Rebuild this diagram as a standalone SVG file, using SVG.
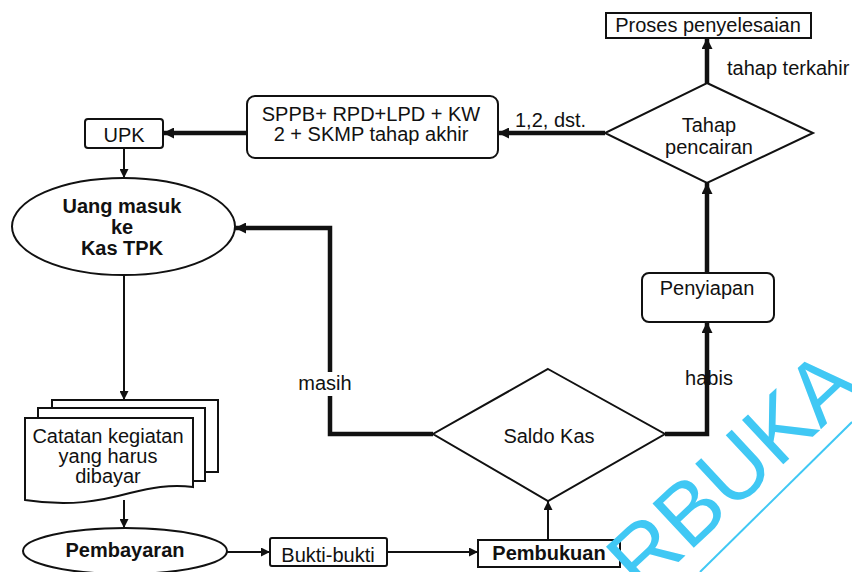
<svg xmlns="http://www.w3.org/2000/svg" width="852" height="572" viewBox="0 0 852 572">
<defs>
<style>
text{font-family:"Liberation Sans",Arial,sans-serif;font-size:20px;fill:#111;}
.c{text-anchor:middle;}
.b{font-weight:bold;}
.node{fill:#fff;stroke:#111;stroke-width:2;}
.thin{fill:none;stroke:#111;stroke-width:2;}
.thick{fill:none;stroke:#111;stroke-width:4.5;}
.wm{font-size:88px;fill:#40c8f4;}
</style>
<marker id="as" viewBox="0 0 10 10" refX="10" refY="5" markerWidth="10" markerHeight="9" orient="auto" markerUnits="userSpaceOnUse">
<path d="M0,0 L10,5 L0,10 z" fill="#111"/>
</marker>
<marker id="al" viewBox="0 0 10 10" refX="10" refY="5" markerWidth="12" markerHeight="11" orient="auto" markerUnits="userSpaceOnUse">
<path d="M0,0 L10,5 L0,10 z" fill="#111"/>
</marker>
</defs>
<rect width="852" height="572" fill="#fff"/>

<g id="connectors">
<path class="thick" d="M247,133 L163,133" marker-end="url(#al)"/>
<path class="thin" d="M124,148 L124,178" marker-end="url(#as)"/>
<path class="thin" d="M124,275 L124,400" marker-end="url(#as)"/>
<path class="thin" d="M124,500 L124,528" marker-end="url(#as)"/>
<path class="thin" d="M227,552 L270,552" marker-end="url(#as)"/>
<path class="thin" d="M387,552 L478,552" marker-end="url(#as)"/>
<path class="thin" d="M548,540 L548,501" marker-end="url(#as)"/>
<path class="thick" d="M433,434 L330,434 L330,228 L235,228" marker-end="url(#al)"/>
<rect x="298" y="372" width="56" height="24" fill="#fff"/>
<text x="325" y="390" class="c">masih</text>
<path class="thick" d="M665,434 L707,434 L707,322" marker-end="url(#al)"/>
<text x="709" y="385" class="c">habis</text>
<path class="thick" d="M707,273 L707,183" marker-end="url(#al)"/>
<path class="thick" d="M707,83 L707,38" marker-end="url(#al)"/>
<text x="727" y="75">tahap terkahir</text>
<path class="thick" d="M605,133 L498,133" marker-end="url(#al)"/>
<text x="515" y="127">1,2, dst.</text>
</g>

<g id="proses">
<rect class="node" x="606" y="13" width="205" height="25"/>
<text x="708" y="32" class="c">Proses penyelesaian</text>
</g>

<g id="tahap">
<path class="node" d="M707,83 L813,133 L707,183 L605,133 z" stroke-width="2.5"/>
<text x="709" y="132" class="c">Tahap</text>
<text x="709" y="154" class="c">pencairan</text>
</g>

<g id="sppb">
<rect class="node" x="247" y="96" width="251" height="62" rx="8"/>
<text x="371" y="121" class="c">SPPB+ RPD+LPD + KW</text>
<text x="371" y="141" class="c">2 + SKMP tahap akhir</text>
</g>

<g id="upk">
<rect class="node" x="85" y="119" width="78" height="29" rx="3"/>
<text x="124" y="142" class="c">UPK</text>
</g>

<g id="uang">
<ellipse class="node" cx="123.5" cy="226.5" rx="111.5" ry="48.5"/>
<text x="122" y="213" class="c b">Uang masuk</text>
<text x="122" y="234" class="c b">ke</text>
<text x="122" y="255" class="c b">Kas TPK</text>
</g>

<g id="penyiapan">
<rect class="node" x="642" y="273" width="132" height="49" rx="7"/>
<text x="707" y="295" class="c">Penyiapan</text>
</g>

<g id="saldo">
<path class="node" d="M548,369 L665,434 L548,501 L433,434 z" stroke-width="2.5"/>
<text x="549" y="443" class="c">Saldo Kas</text>
</g>

<g id="catatan">
<rect class="node" x="52" y="400" width="166" height="72"/>
<rect class="node" x="38" y="408" width="167" height="73"/>
<path class="node" d="M25,418 L193,418 L193,487 C170,484 150,488 130,493 C100,501 70,507 25,500 z" stroke-width="3"/>
<text x="108" y="443" class="c">Catatan kegiatan</text>
<text x="108" y="463" class="c">yang harus</text>
<text x="108" y="483" class="c">dibayar</text>
</g>

<g id="pembayaran">
<ellipse class="node" cx="125" cy="551" rx="102" ry="23"/>
<text x="125" y="557" class="c b">Pembayaran</text>
</g>

<g id="bukti">
<rect class="node" x="270" y="538" width="117" height="28" rx="2"/>
<text x="328" y="562" class="c">Bukti-bukti</text>
</g>

<g id="pembukuan">
<rect class="node" x="478" y="540" width="142" height="27"/>
<text x="549" y="560" class="c b">Pembukuan</text>
</g>

<g id="watermark">
<text class="wm" transform="translate(642,596) rotate(-43)">RBUKA</text>
<line x1="700" y1="572" x2="852" y2="422" stroke="#40c8f4" stroke-width="2"/>
</g>
</svg>
